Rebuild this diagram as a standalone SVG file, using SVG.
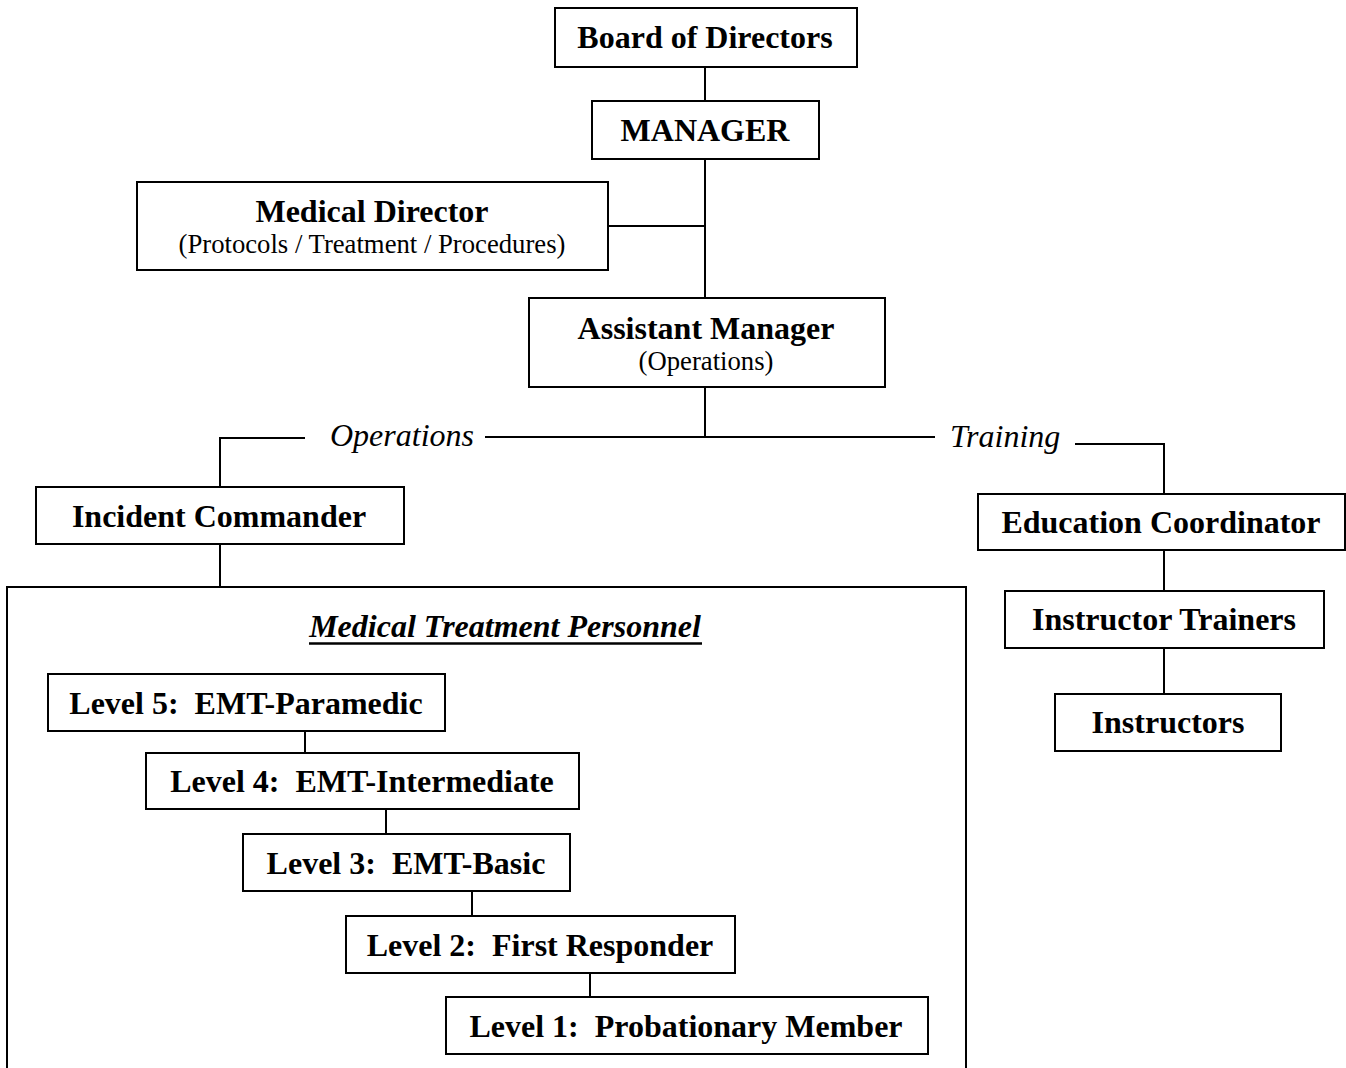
<svg xmlns="http://www.w3.org/2000/svg" width="1346" height="1068" viewBox="0 0 1346 1068">
<style>
rect.box{fill:#fff;stroke:#000;stroke-width:2}
.t{font-family:"Liberation Serif","Times New Roman",serif;font-size:32px;font-weight:bold;text-anchor:middle;fill:#000;white-space:pre}
.s{font-family:"Liberation Serif","Times New Roman",serif;font-size:26.7px;text-anchor:middle;fill:#000}
.i{font-family:"Liberation Serif","Times New Roman",serif;font-size:32px;font-style:italic;fill:#000}
#connectors path{fill:none;stroke:#000;stroke-width:2}
</style>
<rect width="1346" height="1068" fill="#fff"/>
<g id="connectors">
<path d="M705 67V101M705 159V298M608 226H705M705 387V437"/>
<path d="M220 487V438H305M485 437H935"/>
<path d="M1075 444H1164V494"/>
<path d="M220 544V587"/>
<path d="M305 731V753M386 809V834M472 891V916M590 973V997"/>
<path d="M1164 550V591M1164 648V694"/>
</g>
<g id="board"><rect class="box" x="555" y="8" width="302" height="59"/><text class="t" x="705" y="48">Board of Directors</text></g>
<g id="manager"><rect class="box" x="592" y="101" width="227" height="58"/><text class="t" x="705" y="141">MANAGER</text></g>
<g id="medical-director"><rect class="box" x="137" y="182" width="471" height="88"/><text class="t" x="372" y="222">Medical Director</text><text class="s" x="372" y="253">(Protocols / Treatment / Procedures)</text></g>
<g id="assistant-manager"><rect class="box" x="529" y="298" width="356" height="89"/><text class="t" x="706" y="339">Assistant Manager</text><text class="s" x="706" y="370">(Operations)</text></g>
<g id="label-operations"><text class="i" x="330" y="446">Operations</text></g>
<g id="label-training"><text class="i" x="950" y="447">Training</text></g>
<g id="incident-commander"><rect class="box" x="36" y="487" width="368" height="57"/><text class="t" x="219" y="527">Incident Commander</text></g>
<g id="medical-treatment-personnel"><path d="M7 1068V587H966V1068" fill="none" stroke="#000" stroke-width="2"/><text class="t" x="505" y="637" font-style="italic">Medical Treatment Personnel</text><line x1="309" y1="643.5" x2="702" y2="643.5" stroke="#000" stroke-width="2.5"/></g>
<g id="level5"><rect class="box" x="48" y="674" width="397" height="57"/><text class="t" x="246" y="714" xml:space="preserve">Level 5:  EMT-Paramedic</text></g>
<g id="level4"><rect class="box" x="146" y="753" width="433" height="56"/><text class="t" x="362" y="792" xml:space="preserve">Level 4:  EMT-Intermediate</text></g>
<g id="level3"><rect class="box" x="243" y="834" width="327" height="57"/><text class="t" x="406" y="874" xml:space="preserve">Level 3:  EMT-Basic</text></g>
<g id="level2"><rect class="box" x="346" y="916" width="389" height="57"/><text class="t" x="540" y="956" xml:space="preserve">Level 2:  First Responder</text></g>
<g id="level1"><rect class="box" x="446" y="997" width="482" height="57"/><text class="t" x="686" y="1037" xml:space="preserve">Level 1:  Probationary Member</text></g>
<g id="education-coordinator"><rect class="box" x="978" y="494" width="367" height="56"/><text class="t" x="1161" y="533">Education Coordinator</text></g>
<g id="instructor-trainers"><rect class="box" x="1005" y="591" width="319" height="57"/><text class="t" x="1164" y="630">Instructor Trainers</text></g>
<g id="instructors"><rect class="box" x="1055" y="694" width="226" height="57"/><text class="t" x="1168" y="733">Instructors</text></g>
</svg>
